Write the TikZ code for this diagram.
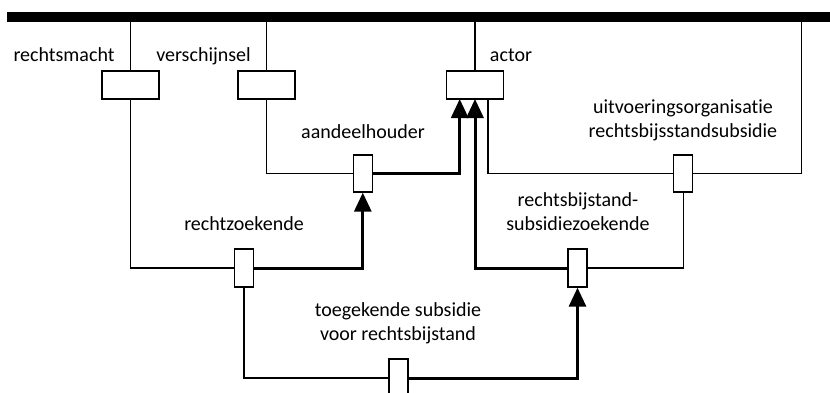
\documentclass[tikz,border=0pt]{standalone}
\usepackage{fontspec}
\setmainfont{Carlito}[Ligatures=NoCommon]
\usetikzlibrary{arrows.meta}
\begin{document}
\begin{tikzpicture}[x=1pt,y=-1pt,
  thin line/.style={line width=1.3pt},
  thick line/.style={line width=3pt},
  arr/.style={thick line,-{Triangle[width=17pt,length=19pt]}},
  hbox/.style={draw,line width=1.3pt,fill=white,inner sep=0pt,minimum width=57pt,minimum height=28pt},
  vbox/.style={draw,line width=1.3pt,fill=white,inner sep=0pt,minimum width=19pt,minimum height=38pt},
  lbl/.style={font=\fontsize{20}{24}\selectfont,align=center,anchor=base,inner sep=0pt}]
\useasboundingbox (0,0) rectangle (830,392);
% bar
\node[fill=black,inner sep=0pt,minimum width=823pt,minimum height=10pt,anchor=north west] (bar) at (7,12) {};
% boxes
\node[hbox] (rm) at (130.5,85) {};
\node[hbox] (vs) at (266.5,85) {};
\node[hbox,minimum width=56.6pt] (ac) at (475,85) {};
\node[vbox,minimum height=37pt] (ah) at (362.8,173.5) {};
\node[vbox,minimum height=37pt] (uo) at (683.3,173.5) {};
\node[vbox] (rz) at (244,268) {};
\node[vbox] (rb) at (577.5,268) {};
\node[vbox] (tg) at (398.5,378) {};
% coordinates
\coordinate (acr) at (488,99);
\coordinate (acl) at (459.7,99);
\coordinate (acm) at (475,99);
\coordinate (rtc) at (801.7,173.5);
% thin connectors
\draw[thin line] (rm.north) -- (rm.north |- bar.south);
\draw[thin line] (vs.north) -- (vs.north |- bar.south);
\draw[thin line] (ac.north) -- (ac.north |- bar.south);
\draw[thin line] (rm.south) -- (rm.south |- rz.west) -- (rz.west);
\draw[thin line] (vs.south) -- (vs.south |- ah.west) -- (ah.west);
\draw[thin line] (acr) -- (acr |- uo.west) -- (uo.west);
\draw[thin line] (uo.east) -- (rtc) -- (rtc |- bar.south);
\draw[thin line] (uo.south) -- (uo.south |- rb.east) -- (rb.east);
\draw[thin line] (rz.south) -- (rz.south |- tg.west) -- (tg.west);
% thick connectors with arrows
\draw[arr] (rz.east) -- (ah.south |- rz.east) -- (ah.south);
\draw[arr] (ah.east) -- (acl |- ah.east) -- (acl);
\draw[arr] (rb.west) -- (acm |- rb.west) -- (acm);
\draw[arr] (tg.east) -- (rb.south |- tg.east) -- (rb.south);
% labels
\node[lbl] (l1) at (64,61) {rechtsmacht};
\node[lbl] (l2) at (203.5,61) {verschijnsel};
\node[lbl] (l3) at (511,61) {actor};
\node[lbl] (l4) at (363,138) {aandeelhouder};
\node[lbl] (l5) at (683,137) {uitvoeringsorganisatie\\rechtsbijsstandsubsidie};
\node[lbl] (l6) at (244,230.7) {rechtzoekende};
\node[lbl] (l7) at (578,230.7) {rechtsbijstand-\\subsidiezoekende};
\node[lbl] (l8) at (398,340) {toegekende subsidie\\voor rechtsbijstand};
\end{tikzpicture}
\end{document}
